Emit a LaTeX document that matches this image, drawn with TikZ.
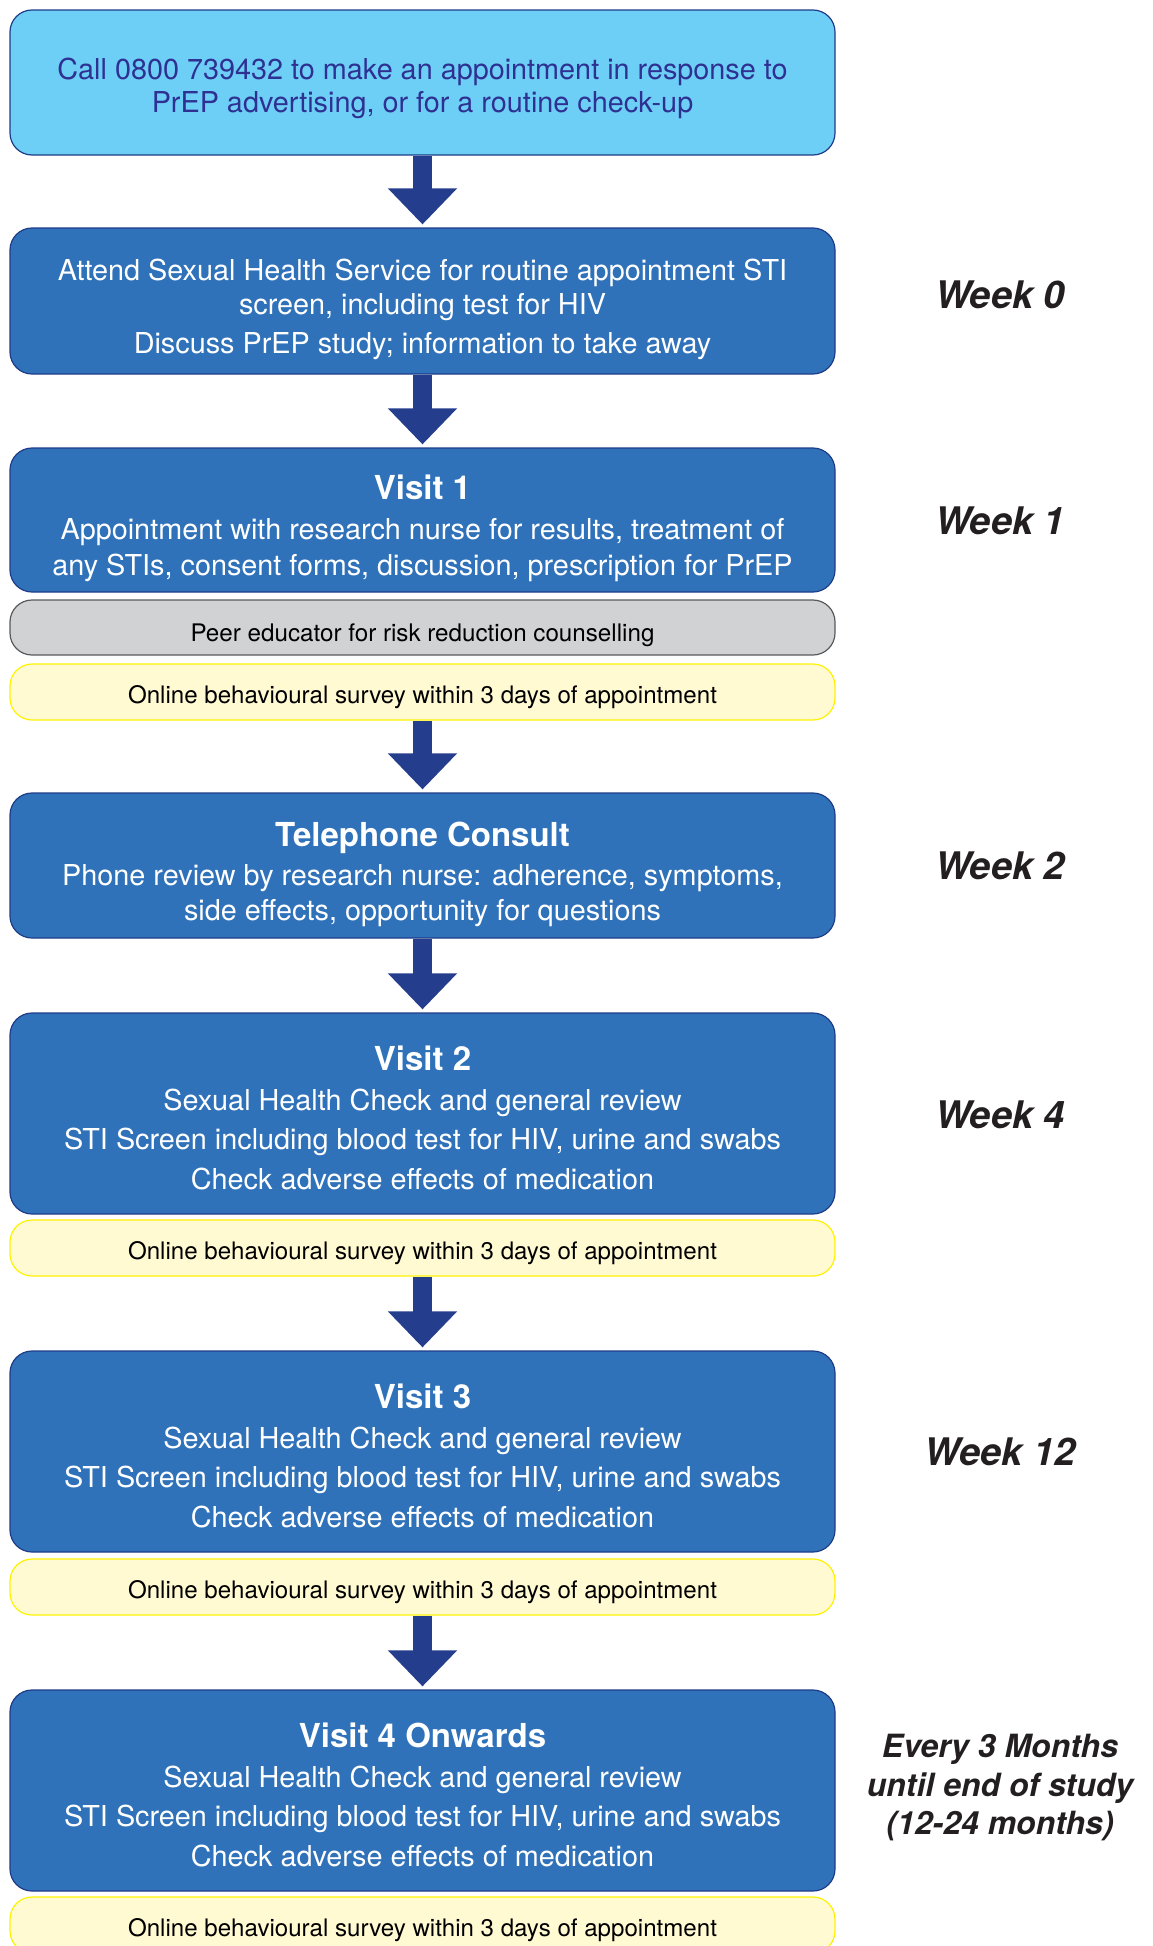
\documentclass[tikz,border=0pt]{standalone}
\usepackage{fontspec}
\setmainfont{TeX Gyre Heros}
\usetikzlibrary{arrows.meta}
\definecolor{callblue}{HTML}{6DCFF6}
\definecolor{calltext}{HTML}{2E3192}
\definecolor{boxblue}{HTML}{2F72B9}
\definecolor{boxedge}{HTML}{1F3C88}
\definecolor{arrowblue}{HTML}{253D8D}
\definecolor{peergrey}{HTML}{D1D2D4}
\definecolor{peeredge}{HTML}{58595B}
\definecolor{surveyfill}{HTML}{FFFAD2}
\definecolor{surveyedge}{HTML}{FFF200}
\definecolor{weektext}{HTML}{231F20}
\newcommand\padtop[1]{\rule{0pt}{#1pt}}
\newcommand\boxtitle[1]{{\bfseries\fontsize{33}{39}\selectfont #1}}

\begin{document}
\begin{tikzpicture}[x=1pt,y=-1pt,
  box/.style={rounded corners=22pt, line width=1.2pt, minimum width=825pt, align=center, inner sep=0pt},
  callbox/.style={box, fill=callblue, draw=boxedge, text=calltext, minimum height=145pt, font=\fontsize{28.8}{34.4}\selectfont},
  visitbox/.style={box, fill=boxblue, draw=boxedge, text=white, font=\fontsize{28.8}{34.4}\selectfont},
  peerbox/.style={box, fill=peergrey, draw=peeredge, minimum height=55pt, font=\fontsize{24.2}{29}\selectfont},
  surveybox/.style={box, fill=surveyfill, draw=surveyedge, minimum height=56pt, font=\fontsize{24.1}{29}\selectfont},
  week/.style={text=weektext, align=center, font=\bfseries\itshape\fontsize{38}{45}\selectfont},
  flow/.style={arrowblue, line width=19pt, -{Triangle[width=67pt,length=36pt]}, shorten >=3pt}]
  \useasboundingbox (0,0) rectangle (1152,1946);

  \node[callbox] (call) at (422.5,82.5) {\padtop{33}Call 0800 739432 to make an appointment in response to\\[-1pt]
    PrEP advertising, or for a routine check-up};
  \node[visitbox, minimum height=146pt] (attend) at (422.5,301) {\padtop{38.5}Attend Sexual Health Service for routine appointment STI\\
    screen, including test for HIV\\[4.5pt]
    Discuss PrEP study; information to take away};
  \node[visitbox, minimum height=144pt] (visit1) at (422.5,520) {\padtop{41}\boxtitle{Visit 1}\\[5pt]
    Appointment with research nurse for results, treatment of\\[1.5pt]
    any STIs, consent forms, discussion, prescription for PrEP};
  \node[peerbox] (peer) at (422.5,627.5) {\padtop{32.5}Peer educator for risk reduction counselling};
  \node[surveybox] (survey1) at (422.5,692) {\padtop{28}Online behavioural survey within 3 days of appointment};
  \node[visitbox, minimum height=145pt] (phone) at (422.5,865.5) {\padtop{41.5}\boxtitle{Telephone Consult}\\[5pt]
    Phone review by research nurse: adherence, symptoms,\\
    side effects, opportunity for questions};
  \node[visitbox, minimum height=201pt] (visit2) at (422.5,1113.5) {\padtop{34}\boxtitle{Visit 2}\\[5pt]
    Sexual Health Check and general review\\[5.5pt]
    STI Screen including blood test for HIV, urine and swabs\\[5.5pt]
    Check adverse effects of medication};
  \node[surveybox] (survey2) at (422.5,1248) {\padtop{28}Online behavioural survey within 3 days of appointment};
  \node[visitbox, minimum height=201pt] (visit3) at (422.5,1451.5) {\padtop{34}\boxtitle{Visit 3}\\[5pt]
    Sexual Health Check and general review\\[5.5pt]
    STI Screen including blood test for HIV, urine and swabs\\[5.5pt]
    Check adverse effects of medication};
  \node[surveybox] (survey3) at (422.5,1587) {\padtop{28}Online behavioural survey within 3 days of appointment};
  \node[visitbox, minimum height=201pt] (visit4) at (422.5,1790.5) {\padtop{34}\boxtitle{Visit 4 Onwards}\\[5pt]
    Sexual Health Check and general review\\[5.5pt]
    STI Screen including blood test for HIV, urine and swabs\\[5.5pt]
    Check adverse effects of medication};
  \node[surveybox] (survey4) at (422.5,1925) {\padtop{28}Online behavioural survey within 3 days of appointment};

  \draw[flow] (call) -- (attend);
  \draw[flow] (attend) -- (visit1);
  \draw[flow] (survey1) -- (phone);
  \draw[flow] (phone) -- (visit2);
  \draw[flow] (survey2) -- (visit3);
  \draw[flow] (survey3) -- (visit4);

  \node[week] (wk0) at (1000,295) {Week 0};
  \node[week] (wk1) at (1000,521) {Week 1};
  \node[week] (wk2) at (1000,866) {Week 2};
  \node[week] (wk4) at (1000,1115) {Week 4};
  \node[week] (wk12) at (1000,1452) {Week 12};
  \node[week, font=\bfseries\itshape\fontsize{32}{38.5}\selectfont] (every) at (1000,1788) {Every 3 Months\\
    until end of study\\(12-24 months)};
\end{tikzpicture}
\end{document}
